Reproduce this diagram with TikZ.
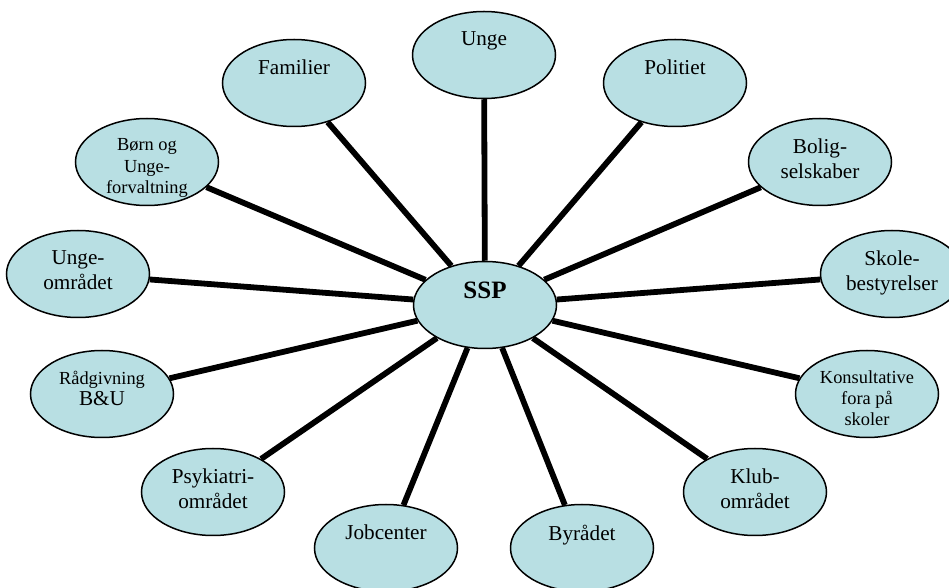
\documentclass[tikz,border=0pt]{standalone}
\usepackage{fontspec}
\setmainfont{Liberation Serif}
\usepackage{tikz}
\usetikzlibrary{shapes.geometric}
\definecolor{orgblue}{RGB}{184,223,227}
\newcommand{\orgfont}{\fontsize{10.6}{12.4}\selectfont}
\newcommand{\smallorg}{\fontsize{9.2}{10.6}\selectfont}
\tikzstyle{org} = [ellipse, draw, line width=0.75pt, fill=orgblue, minimum width=71.5pt, minimum height=43.5pt, inner sep=0pt]
\tikzstyle{orgtext} = [anchor=north, align=center, inner sep=0pt]
\tikzstyle{link} = [line width=2.9pt]

\begin{document}
\begin{tikzpicture}[x=0.5pt,y=-0.5pt]
\clip (0,0) rectangle (949,588);

\node[org] (ssp) at (485,305) {};
\node[orgtext] (ssp-txt) at ([yshift=11.6pt]ssp.center) {\fontsize{12.5}{14}\selectfont\bfseries SSP};

\foreach \nm/\px/\py/\fnt/\txt in {
 unge/484/55/\orgfont/{Unge},
 familier/294/83/\orgfont/{Familier},
 politiet/675/83/\orgfont/{Politiet},
 boern/147/162/\smallorg/{Børn og\\Unge-\\forvaltning},
 bolig/820/162/\orgfont/{Bolig-\\selskaber},
 ungeomr/78/274/\orgfont/{Unge-\\området},
 skole/892/274/\orgfont/{Skole-\\bestyrelser},
 raadgiv/102/394/\smallorg/{Rådgivning\\\orgfont B\&U},
 konsult/867/394/\smallorg/{Konsultative\\fora på\\skoler},
 psyk/213/492/\orgfont/{Psykiatri-\\området},
 klub/755/492/\orgfont/{Klub-\\området},
 job/386/548/\orgfont/{Jobcenter},
 byraad/582/548/\orgfont/{Byrådet}}
{
\node[org] (\nm) at (\px,\py) {};
\node[orgtext, font=\fnt] (\nm-txt) at ([yshift=11.8pt]\nm.center) {\txt};
}

\foreach \nm in {unge,familier,politiet,boern,bolig,ungeomr,skole,raadgiv,konsult,psyk,klub,job,byraad}
{
\draw[link] (ssp) -- (\nm);
}

\end{tikzpicture}
\end{document}
